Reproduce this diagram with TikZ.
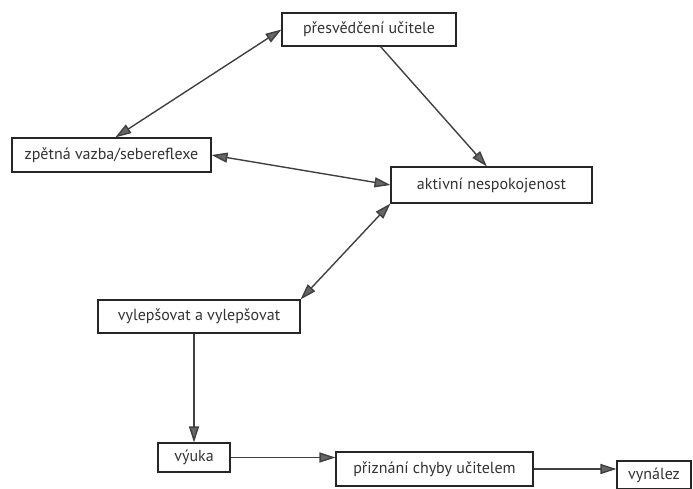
\documentclass[tikz,border=0pt]{standalone}
\usepackage{fontspec}
\setmainfont{PT Sans}
\usetikzlibrary{arrows.meta}

\begin{document}
\begin{tikzpicture}[x=1pt, y=-1pt,
  box/.style={draw=black!85, line width=1.1pt, inner sep=0pt,
    font=\fontsize{16}{19}\selectfont, text=black!80},
  tip/.style={-{Triangle[length=16pt,width=10pt,fill=black!60]}},
  link/.style={draw=black!75, line width=1.4pt, tip},
  both/.style={draw=black!75, line width=1.4pt,
    {Triangle[length=16pt,width=10pt,fill=black!60]}-{Triangle[length=16pt,width=10pt,fill=black!60]}}]
  \useasboundingbox (0,0) rectangle (693,489);
  \node[box, minimum width=174pt, minimum height=33pt] (pres) at (369,29.5) {přesvědčení učitele};
  \node[box, minimum width=199pt, minimum height=34pt] (zpet) at (111.5,155) {zpětná vazba/sebereflexe};
  \node[box, minimum width=201pt, minimum height=36pt] (akt) at (491.5,185) {aktivní nespokojenost};
  \node[box, minimum width=202pt, minimum height=33pt] (vyl) at (199,316.5) {vylepšovat a vylepšovat};
  \node[box, minimum width=72pt, minimum height=29pt] (vyuka) at (194,457.5) {výuka};
  \node[box, minimum width=197pt, minimum height=34pt] (priz) at (434.5,469) {přiznání chyby učitelem};
  \node[box, minimum width=74pt, minimum height=28pt] (vyn) at (654,475) {vynález};

  \draw[both] (zpet.78) -- (pres.west);
  \draw[link] (pres.-56) -- (akt.104);
  \draw[both] (zpet.east) -- (akt.west);
  \draw[both] (vyl.north east) -- (akt.south west);
  \draw[link] (vyl.south -| vyuka.north) -- (vyuka.north);
  \draw[link] (vyuka.east) -- (vyuka.east -| priz.west);
  \draw[link] (priz.east) -- (priz.east -| vyn.west);
\end{tikzpicture}
\end{document}
